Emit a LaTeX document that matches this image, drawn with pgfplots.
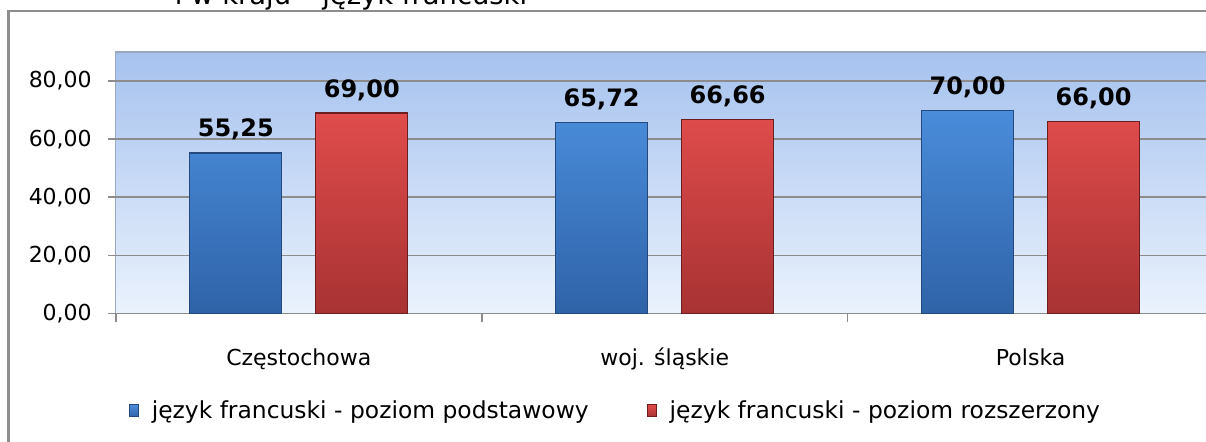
\documentclass[border=0pt]{standalone}
\usepackage{pgfplots}
\pgfplotsset{compat=1.18}
\usepackage{fontspec}
\setmainfont{DejaVu Sans}
\definecolor{gridgray}{HTML}{8C8C8C}
\definecolor{framegray}{HTML}{8E8E8E}
\definecolor{bgtop}{HTML}{A6C2EE}
\definecolor{bgbot}{HTML}{EAF2FD}
\definecolor{bgedge}{HTML}{9AA8BE}
\definecolor{blueT}{HTML}{4A8CDA}
\definecolor{blueB}{HTML}{2F63A8}
\definecolor{blueE}{HTML}{23497E}
\definecolor{redT}{HTML}{E04C4C}
\definecolor{redB}{HTML}{A83232}
\definecolor{redE}{HTML}{6E1E1E}
\begin{document}
\begin{tikzpicture}[x=1pt,y=1pt]
\draw[line width=1.2pt, draw=framegray] (4.25,215.5) rectangle (640,-30);
\node[anchor=base, inner sep=0pt, font=\fontsize{13.7}{16}\selectfont] at (175.5,218.6) {i w kraju – język francuski};
\begin{axis}[
  at={(57.9pt,64.25pt)}, anchor=south west,
  scale only axis, width=548.9pt, height=130.75pt,
  xmin=-0.5, xmax=2.5, ymin=0, ymax=90,
  ybar=17pt, bar width=46pt,
  axis background/.style={top color=bgtop, bottom color=bgbot, draw=bgedge, line width=0.6pt},
  axis x line*=bottom, axis y line*=left,
  x axis line style={draw=gridgray, line width=0.9pt},
  y axis line style={draw=none},
  xtick={0,1,2},
  xticklabels={Częstochowa, woj. śląskie, Polska},
  minor xtick={-0.5,0.5,1.5},
  major x tick style={draw=none},
  ytick={0,20,40,60,80},
  ymajorgrids, grid style={draw=gridgray, line width=0.8pt},
  tick style={draw=gridgray, line width=0.8pt},
  tick align=outside,
  major tick length=4pt, minor tick length=4.5pt,
  /pgf/number format/assume math mode=true,
  yticklabel={\pgfmathprintnumber[fixed,fixed zerofill,precision=2,use comma]{\tick}},
  ticklabel style={font=\fontsize{11}{13}\selectfont, text=black},
  yticklabel style={xshift=-4.5pt},
  xticklabel style={anchor=base, yshift=-22pt},
  nodes near coords={\pgfmathprintnumber[fixed,fixed zerofill,precision=2,use comma,assume math mode=true]{\pgfplotspointmeta}},
  nodes near coords style={font=\fontsize{12}{14}\selectfont\bfseries, anchor=base, yshift=8pt, text=black},
  legend columns=2,
  legend style={at={(0.456,-0.372)}, anchor=center, draw=none, fill=none,
    font=\fontsize{11.7}{13}\selectfont,
    /tikz/every even column/.append style={column sep=27pt}},
  legend image code/.code={\draw[#1, line width=0.4pt] (0pt,-3pt) rectangle (4.5pt,3pt); \path (9pt,0pt);},
]
\addplot[ybar, top color=blueT, bottom color=blueB, draw=blueE, line width=0.6pt]
  coordinates {(0,55.25) (1,65.72) (2,70.00)};
\addplot[ybar, top color=redT, bottom color=redB, draw=redE, line width=0.6pt]
  coordinates {(0,69.00) (1,66.66) (2,66.00)};
\legend{język francuski - poziom podstawowy, język francuski - poziom rozszerzony}
\end{axis}
\pgfresetboundingbox
\useasboundingbox (0,0) rectangle (603,221);
\end{tikzpicture}
\end{document}
